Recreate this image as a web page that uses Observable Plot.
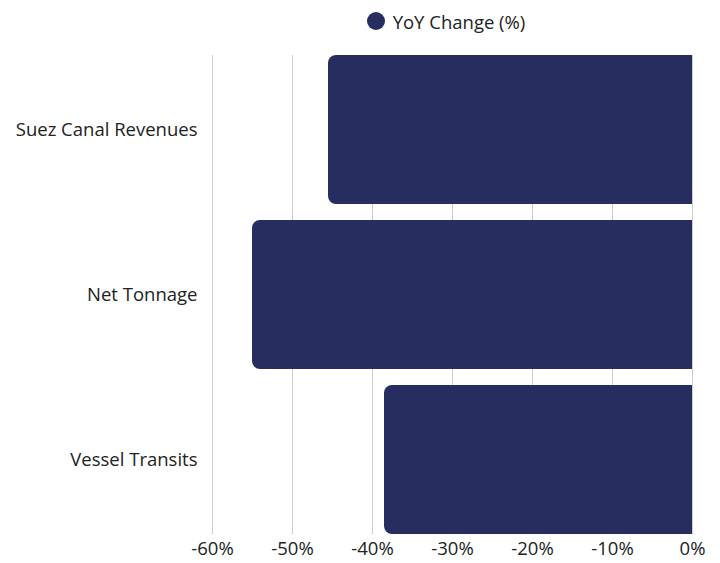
<!DOCTYPE html>
<html>
<head>
<meta charset="utf-8">
<script src="https://cdn.jsdelivr.net/npm/d3@7"></script>
<script src="https://cdn.jsdelivr.net/npm/@observablehq/plot@0.6"></script>
<style>
  html, body { margin: 0; padding: 0; background: #fff; }
  body { width: 720px; height: 563px; overflow: hidden; font-family: "Open Sans", sans-serif; }
  #legend { height: 42px; display: flex; align-items: center; justify-content: center; padding-left: 172px; box-sizing: border-box; font-size: 18.5px; color: #222; }
  #legend .dot { width: 18px; height: 18px; border-radius: 50%; background: #282d5f; margin-right: 8px; }
  #chart svg { display: block; }
</style>
</head>
<body>
<div id="legend"><span class="dot"></span><span>YoY Change (%)</span></div>
<div id="chart"></div>
<script>
const categories = ["Suez Canal Revenues", "Net Tonnage", "Vessel Transits"];
const values = [-45.5, -55.0, -38.5];
const xTicks = [-60, -50, -40, -30, -20, -10, 0];
const seriesName = "YoY Change (%)";
const barColor = "#282d5f";

const data = categories.map((c, i) => ({category: c, value: values[i]}));

const chart = Plot.plot({
  width: 720,
  height: 521,
  marginTop: 13,
  marginBottom: 29,
  marginLeft: 212,
  marginRight: 28,
  style: {fontFamily: "Open Sans, sans-serif", fontSize: "18.5px", color: "#222"},
  x: {domain: [-60, 0], ticks: xTicks, tickFormat: d => d + "%", tickSize: 0, tickPadding: 7, label: null},
  y: {domain: categories, paddingInner: 0.1, paddingOuter: 0, tickSize: 0, tickPadding: 15, label: null},
  marks: [
    Plot.ruleX(xTicks, {stroke: "#cccccc", strokeWidth: 1}),
    Plot.barX(data, {y: "category", x1: "value", x2: 0, fill: barColor, rx: 8}),
    Plot.barX(data, {y: "category", x1: d => d.value / 2, x2: 0, fill: barColor})
  ]
});
document.getElementById("chart").appendChild(chart);
</script>
</body>
</html>
